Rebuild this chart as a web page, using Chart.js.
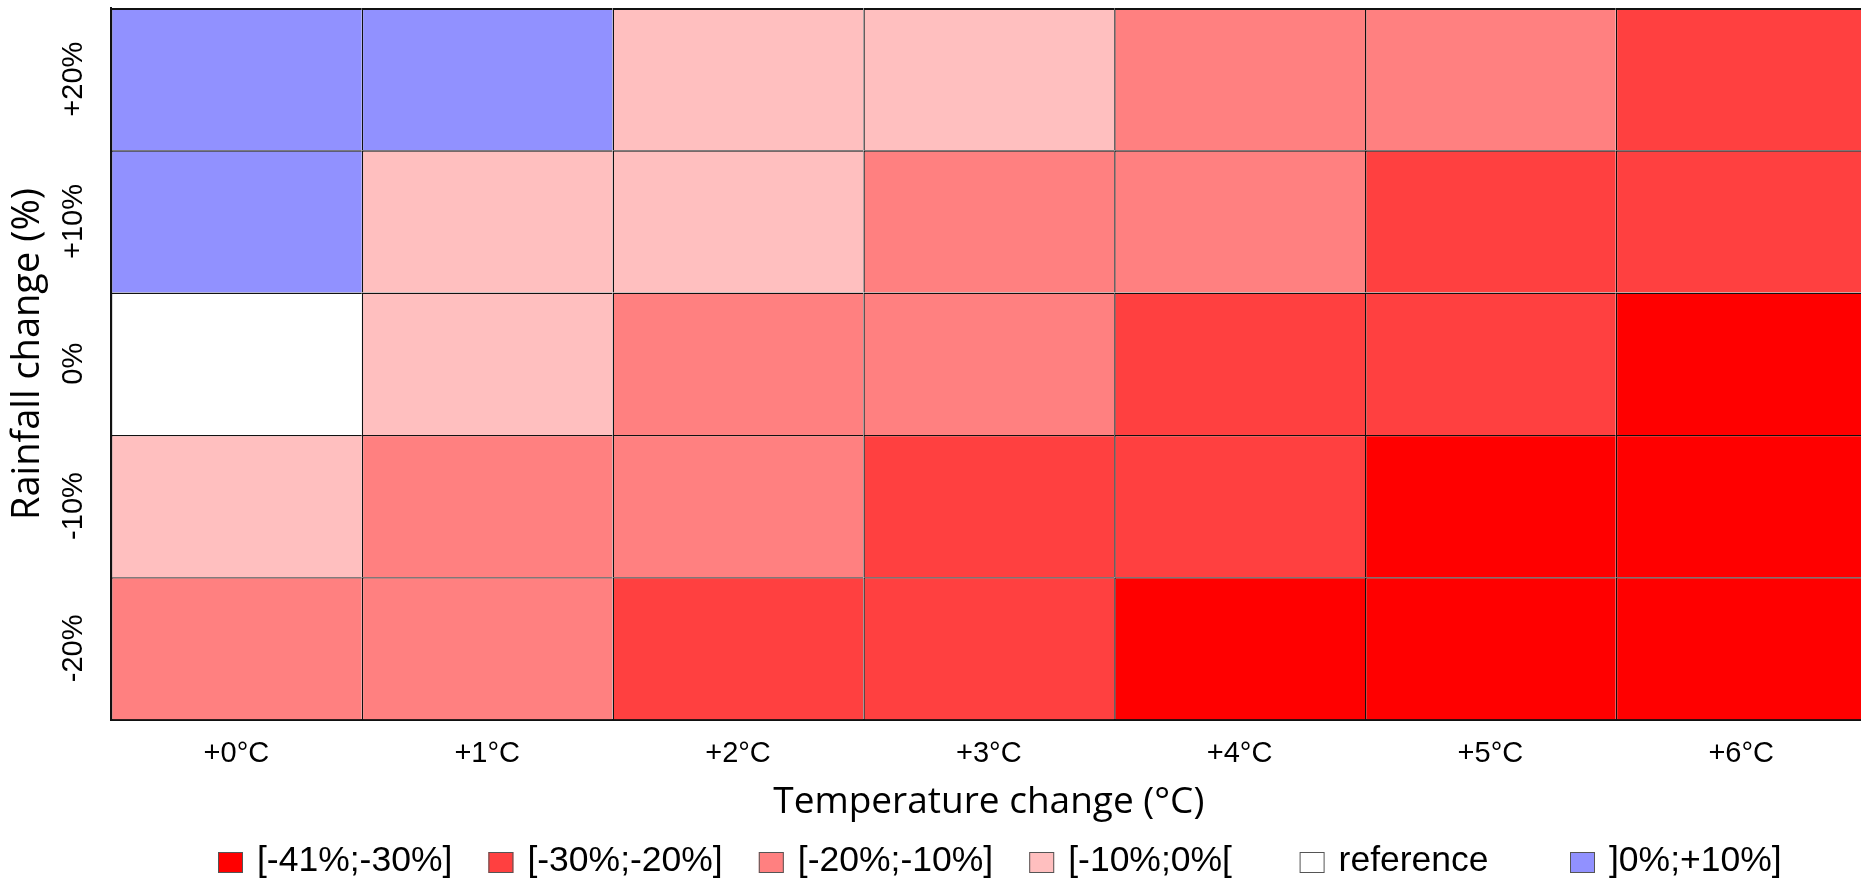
<!DOCTYPE html>
<html>
<head>
<meta charset="utf-8">
<script src="https://cdn.jsdelivr.net/npm/chart.js@4.4.0/dist/chart.umd.min.js"></script>
<style>
  html, body { margin: 0; padding: 0; background: #fff; overflow: hidden; }
</style>
</head>
<body>
<canvas id="heat" width="1870" height="882"></canvas>
<script>
const temperatures = ["+0°C", "+1°C", "+2°C", "+3°C", "+4°C", "+5°C", "+6°C"];
const rainfall = [20, 10, 0, -10, -20];
const rainfallLabels = ["+20%", "+10%", "0%", "-10%", "-20%"];
const rainfallStep = 10;

const classLabels = ["[-41%;-30%]", "[-30%;-20%]", "[-20%;-10%]", "[-10%;0%[", "reference", "]0%;+10%]"];
const classColors = ["#ff0000", "#ff4040", "#ff8080", "#ffbfbf", "#ffffff", "#9191ff"];

// class of each cell: rows follow rainfall (+20% first), columns follow temperatures
const yieldClass = [
  [5, 5, 3, 3, 2, 2, 1],
  [5, 3, 3, 2, 2, 1, 1],
  [4, 3, 2, 2, 1, 1, 0],
  [3, 2, 2, 1, 1, 0, 0],
  [2, 2, 1, 1, 0, 0, 0],
];

const lineColor = "#111";
const arial = "'Liberation Sans', Arial, sans-serif";

const datasets = rainfall.map((r, i) => ({
  label: rainfallLabels[i],
  data: temperatures.map(() => [r - rainfallStep / 2, r + rainfallStep / 2]),
  backgroundColor: yieldClass[i].map(c => classColors[c]),
  borderColor: lineColor,
  borderWidth: { top: i === 0 ? 2 : 1.4, left: 1.4, right: 0, bottom: 0 },
  borderSkipped: false,
  barPercentage: 1,
  categoryPercentage: 1,
  inflateAmount: 0,
}));

// legend with evenly spaced keys under the x title
const legendKeys = {
  id: "legendKeys",
  afterDraw(chart) {
    const ctx = chart.ctx;
    ctx.save();
    ctx.font = "35.5px " + arial;
    ctx.textBaseline = "middle";
    ctx.textAlign = "left";
    classLabels.forEach((lab, i) => {
      const x = 218 + i * 270.4;
      ctx.fillStyle = classColors[i];
      ctx.fillRect(x, 852, 25, 21);
      ctx.strokeStyle = "#555";
      ctx.lineWidth = 1;
      ctx.strokeRect(x + 0.5, 852.5, 24, 20);
      ctx.fillStyle = "#000";
      ctx.fillText(lab, x + 39, 861);
    });
    ctx.restore();
  }
};

const yTitle = {
  id: "yTitle",
  afterDraw(chart) {
    const ctx = chart.ctx;
    ctx.save();
    ctx.translate(28.5, 354);
    ctx.rotate(-Math.PI / 2);
    ctx.font = "38px 'Open Sans'";
    ctx.textAlign = "center";
    ctx.textBaseline = "middle";
    ctx.fillStyle = "#000";
    ctx.fillText("Rainfall change (%)", 0, 0);
    ctx.restore();
  }
};

Chart.defaults.color = "#000";

new Chart(document.getElementById("heat"), {
  type: "bar",
  data: { labels: temperatures, datasets },
  options: {
    responsive: false,
    animation: false,
    layout: { padding: { left: 0, top: 8, right: 3.4, bottom: 57.5 } },
    plugins: { legend: { display: false }, tooltip: { enabled: false } },
    scales: {
      x: {
        type: "category",
        stacked: true,
        offset: true,
        z: 1,
        grid: { display: false, drawTicks: false },
        border: { display: true, color: lineColor, width: 2 },
        ticks: { font: { family: arial, size: 29 }, padding: 17, maxRotation: 0, minRotation: 0, autoSkip: false },
        title: { display: true, text: "Temperature change (°C)", font: { family: "'Open Sans'", size: 37 }, padding: 0 },
        afterFit: s => { s.height = 105; s.paddingLeft = 0; s.paddingRight = 0; },
      },
      y: {
        type: "linear",
        min: -25,
        max: 25,
        stacked: false,
        z: 1,
        afterBuildTicks: s => { s.ticks = rainfall.map(v => ({ value: v })); },
        grid: { display: false, drawTicks: false },
        border: { display: true, color: lineColor, width: 2 },
        ticks: {
          font: { family: arial, size: 29 },
          minRotation: 90,
          maxRotation: 90,
          crossAlign: "center",
          padding: 0,
          callback: v => rainfallLabels[rainfall.indexOf(v)],
        },
        afterFit: s => { s.width = 111; s.paddingTop = 0; s.paddingBottom = 0; },
      },
    },
  },
  plugins: [legendKeys, yTitle],
});
</script>
</body>
</html>
